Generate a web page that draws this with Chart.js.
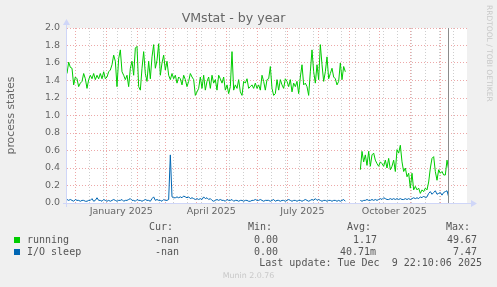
<!DOCTYPE html>
<html><head><meta charset="utf-8">
<script src="https://cdn.jsdelivr.net/npm/chart.js@4/dist/chart.umd.min.js"></script>
<style>
html,body{margin:0;padding:0;background:#f0f0f0;}
#wrap{position:relative;width:497px;height:287px;overflow:hidden;background:#f0f0f0;}
canvas{position:absolute;left:0;top:0;}
.m{position:absolute;font-family:"DejaVu Sans Mono",monospace;font-size:10px;line-height:12px;color:#555;white-space:pre;}
.sq{position:absolute;width:6px;height:6px;}
.side{position:absolute;left:484px;top:5px;font-family:"DejaVu Sans",sans-serif;font-size:7.5px;line-height:10px;color:#c8c8c8;writing-mode:vertical-rl;white-space:pre;}
.ver{position:absolute;left:0;width:497px;top:270px;text-align:center;font-family:"DejaVu Sans",sans-serif;font-size:7.9px;line-height:12px;color:#c8c8c8;}
</style></head>
<body>
<div id="wrap">
<canvas id="c" width="497" height="287"></canvas>
<div class="side">RRDTOOL / TOBI OETIKER</div>
<div class="m" style="right:324px;top:221px">Cur:</div>
<div class="m" style="right:225px;top:221px">Min:</div>
<div class="m" style="right:126px;top:221px">Avg:</div>
<div class="m" style="right:27px;top:221px">Max:</div>
<div class="sq" id="sq0" style="left:14px;top:237px"></div>
<div class="m" style="left:27px;top:234px">running</div>
<div class="m" style="right:318px;top:234px">-nan</div>
<div class="m" style="right:219px;top:234px">0.00</div>
<div class="m" style="right:120px;top:234px">1.17</div>
<div class="m" style="right:20px;top:234px">49.67</div>
<div class="sq" id="sq1" style="left:14px;top:249px"></div>
<div class="m" style="left:27px;top:246px">I/O sleep</div>
<div class="m" style="right:318px;top:246px">-nan</div>
<div class="m" style="right:219px;top:246px">0.00</div>
<div class="m" style="right:121px;top:246px">40.71m</div>
<div class="m" style="right:20px;top:246px">7.47</div>
<div class="m" style="right:15px;top:257px">Last update: Tue Dec  9 22:10:06 2025</div>
<div class="ver">Munin 2.0.76</div>
</div>
<script>
// ---- data (x in days relative to 2025-01-01) ----
const firstDay = -39.3;
const stepDays = 5/3;
const seriesNames = ['running', 'I/O sleep'];
const seriesColors = ['#00cc00', '#0066b3'];
const running = [
1.48,1.61,1.55,1.54,1.35,1.44,1.42,1.33,1.37,1.39,
1.48,1.42,1.31,1.41,1.46,1.42,1.48,1.41,1.46,1.42,
1.48,1.42,1.50,1.42,1.44,1.50,1.52,1.58,1.69,1.62,
1.33,1.65,1.75,1.50,1.46,1.41,1.46,1.33,1.54,1.62,
1.46,1.77,1.79,1.33,1.29,1.54,1.73,1.48,1.39,1.62,
1.42,1.67,1.81,1.54,1.63,1.82,1.46,1.60,1.69,1.52,
1.62,1.46,1.41,1.48,1.42,1.46,1.37,1.44,1.42,1.35,
1.46,1.41,1.33,1.39,1.48,1.44,1.41,1.23,1.27,1.31,
1.44,1.31,1.46,1.29,1.39,1.44,1.31,1.46,1.37,1.41,
1.29,1.46,1.42,1.37,1.44,1.29,1.35,1.25,1.33,1.73,
1.29,1.35,1.31,1.41,1.27,1.23,1.39,1.37,1.42,1.31,
1.33,1.35,1.31,1.37,1.31,1.35,1.29,1.46,1.39,1.29,
1.41,1.42,1.56,1.31,1.23,1.25,1.41,1.29,1.41,1.35,
1.31,1.42,1.39,1.33,1.41,1.27,1.37,1.33,1.39,1.25,
1.44,1.58,1.35,1.37,1.33,1.23,1.50,1.75,1.50,1.37,
1.58,1.41,1.81,1.58,1.39,1.50,1.67,1.42,1.48,1.54,
1.44,1.42,1.35,1.39,1.60,1.41,1.56,1.50,
null,null,null,null,null,null,null,null,
0.38,0.59,0.47,0.55,0.43,0.59,0.42,0.55,0.57,0.49,
0.45,0.42,0.47,0.45,0.42,0.49,0.40,0.51,0.38,0.42,
0.49,0.36,0.61,0.57,0.66,0.47,0.36,0.40,0.30,0.34,
0.17,0.34,0.15,0.19,0.15,0.17,0.11,0.15,0.13,0.17,
0.15,0.24,0.40,0.51,0.53,0.36,0.26,0.38,0.34,0.36,
0.32,0.32,0.49,0.38
];
const ioSleep = [
0.04,0.03,0.04,0.03,0.02,0.04,0.03,0.03,0.02,0.03,
0.03,0.02,0.02,0.03,0.03,0.05,0.02,0.03,0.06,0.03,
0.03,0.02,0.04,0.03,0.02,0.03,0.02,0.03,0.04,0.03,
0.02,0.03,0.03,0.04,0.02,0.03,0.03,0.04,0.05,0.03,
0.03,0.02,0.04,0.03,0.03,0.02,0.03,0.04,0.03,0.03,
0.02,0.05,0.07,0.03,0.04,0.03,0.03,0.02,0.04,0.03,
0.03,0.04,0.55,0.07,0.06,0.06,0.07,0.06,0.07,0.06,
0.08,0.07,0.06,0.07,0.05,0.06,0.05,0.04,0.05,0.04,
0.05,0.04,0.07,0.05,0.06,0.04,0.05,0.03,0.02,0.03,
0.04,0.03,0.04,0.03,0.03,0.02,0.04,0.03,0.03,0.04,
0.02,0.03,0.03,0.02,0.03,0.03,0.02,0.03,0.03,0.02,
0.02,0.03,0.03,0.04,0.03,0.03,0.04,0.03,0.02,0.03,
0.03,0.03,0.02,0.03,0.04,0.02,0.03,0.03,0.02,0.03,
0.03,0.02,0.03,0.04,0.03,0.02,0.03,0.03,0.02,0.03,
0.03,0.02,0.03,0.04,0.03,0.02,0.03,0.04,0.03,0.05,
0.03,0.04,0.03,0.02,0.03,0.03,0.02,0.03,0.03,0.02,
0.03,0.03,0.02,0.03,0.02,0.03,0.04,0.02,
null,null,null,null,null,null,null,null,
0.03,0.02,0.03,0.03,0.04,0.03,0.03,0.04,0.03,0.04,
0.03,0.04,0.05,0.04,0.06,0.05,0.04,0.04,0.05,0.04,
0.05,0.04,0.05,0.04,0.05,0.04,0.04,0.05,0.04,0.05,
0.04,0.05,0.06,0.05,0.06,0.05,0.07,0.06,0.08,0.06,
0.07,0.11,0.13,0.10,0.12,0.14,0.10,0.11,0.12,0.09,
0.12,0.13,0.14,0.07
];
const xMinDay = -39.3, xMaxDay = 360.7;
const monthStartDays = [-31,0,31,59,90,120,151,181,212,243,273,304,334];
const biweeklyDays = [-31,-17,-3,11,25,39,53,67,81,95,109,123,137,151,165,179,193,207,221,235,249,263,277,291,305,319,333,347];
const quarterLabelDays = [15,105,196,288];
const quarterLabels = ['January 2025','April 2025','July 2025','October 2025'];
const nowDay = 342;

document.getElementById('sq0').style.background = seriesColors[0];
document.getElementById('sq1').style.background = seriesColors[1];

const toPoints = arr => arr.map((v, i) => ({x: firstDay + i * stepDays, y: v}));

const RED = 'rgba(225,110,110,0.6)';
const GRAY = 'rgba(185,185,185,0.7)';
const AXIS = '#cfd6f8';

const muninPlugin = {
  id: 'munin',
  beforeDraw(chart) {
    const {ctx, chartArea: a} = chart;
    ctx.save();
    ctx.fillStyle = '#ffffff';
    ctx.fillRect(a.left, a.top, a.right - a.left, a.bottom - a.top);
    ctx.restore();
  },
  afterDatasetsDraw(chart) {
    const {ctx, chartArea: a, scales} = chart;
    ctx.save();
    const nx = Math.round(scales.x.getPixelForValue(nowDay)) + 0.5;
    ctx.strokeStyle = '#8c8c8c';
    ctx.lineWidth = 1;
    ctx.beginPath(); ctx.moveTo(nx, a.top); ctx.lineTo(nx, a.bottom); ctx.stroke();
    ctx.strokeStyle = AXIS;
    ctx.fillStyle = AXIS;
    const by = Math.round(a.bottom) + 0.5, lx = Math.round(a.left) - 0.5;
    ctx.beginPath(); ctx.moveTo(a.left - 4, by); ctx.lineTo(a.right + 4, by); ctx.stroke();
    ctx.beginPath(); ctx.moveTo(lx, a.bottom + 4); ctx.lineTo(lx, a.top - 4); ctx.stroke();
    ctx.beginPath(); ctx.moveTo(a.right + 4, by - 3.5); ctx.lineTo(a.right + 10, by); ctx.lineTo(a.right + 4, by + 3.5); ctx.closePath(); ctx.fill();
    ctx.beginPath(); ctx.moveTo(lx - 3.5, a.top - 3); ctx.lineTo(lx, a.top - 9); ctx.lineTo(lx + 3.5, a.top - 3); ctx.closePath(); ctx.fill();
    ctx.restore();
  }
};

function xKind(v) {
  if (monthStartDays.includes(v)) return 'm';
  if (biweeklyDays.includes(v)) return 'w';
  return 'l';
}

new Chart(document.getElementById('c'), {
  type: 'line',
  data: {
    datasets: [
      {label: seriesNames[0], data: toPoints(running), borderColor: seriesColors[0], borderWidth: 1, pointRadius: 0, tension: 0, spanGaps: false},
      {label: seriesNames[1], data: toPoints(ioSleep), borderColor: seriesColors[1], borderWidth: 1, pointRadius: 0, tension: 0, spanGaps: false}
    ]
  },
  options: {
    responsive: false,
    animation: false,
    layout: {padding: {left: 0, right: 30, top: 0, bottom: 0}},
    plugins: {
      legend: {display: false},
      tooltip: {enabled: false},
      title: {display: true, text: 'VMstat - by year', color: '#666', font: {family: 'DejaVu Sans', size: 12.6, weight: 'normal'}, padding: {top: 11, bottom: 1.88}}
    },
    scales: {
      x: {
        type: 'linear', min: xMinDay, max: xMaxDay,
        afterBuildTicks(s) {
          const vals = Array.from(new Set([...monthStartDays, ...biweeklyDays, ...quarterLabelDays])).filter(v => v >= xMinDay && v <= xMaxDay).sort((p, q) => p - q);
          s.ticks = vals.map(v => ({value: v}));
        },
        afterFit(s) { s.height = 84; },
        border: {display: false, dash: [1, 2]},
        grid: {
          drawTicks: false,
          color(ctx) {
            const k = ctx.tick ? xKind(ctx.tick.value) : 'l';
            return k === 'm' ? RED : (k === 'w' ? GRAY : 'rgba(0,0,0,0)');
          }
        },
        ticks: {
          autoSkip: false, maxRotation: 0, padding: 3, color: '#666',
          font: {family: 'DejaVu Sans', size: 9.5},
          callback(v) { const k = quarterLabelDays.indexOf(v); return k >= 0 ? quarterLabels[k] : ''; }
        }
      },
      y: {
        min: 0, max: 2,
        afterFit(s) { s.width = 67; },
        border: {display: false, dash: [1, 2]},
        title: {display: true, text: 'process states', color: '#666', font: {family: 'DejaVu Sans', size: 10.8}, padding: {top: 4.5, bottom: 0}},
        grid: {
          drawTicks: false,
          color(ctx) { const k = Math.round(ctx.tick.value * 10); return k % 2 === 0 ? RED : GRAY; }
        },
        ticks: {
          stepSize: 0.1, padding: 7, color: '#666',
          font: {family: 'DejaVu Sans', size: 9.5},
          callback(v) { const k = Math.round(v * 10); return k % 2 === 0 ? (k / 10).toFixed(1) : ''; }
        }
      }
    }
  },
  plugins: [muninPlugin]
});
</script>
</body></html>
